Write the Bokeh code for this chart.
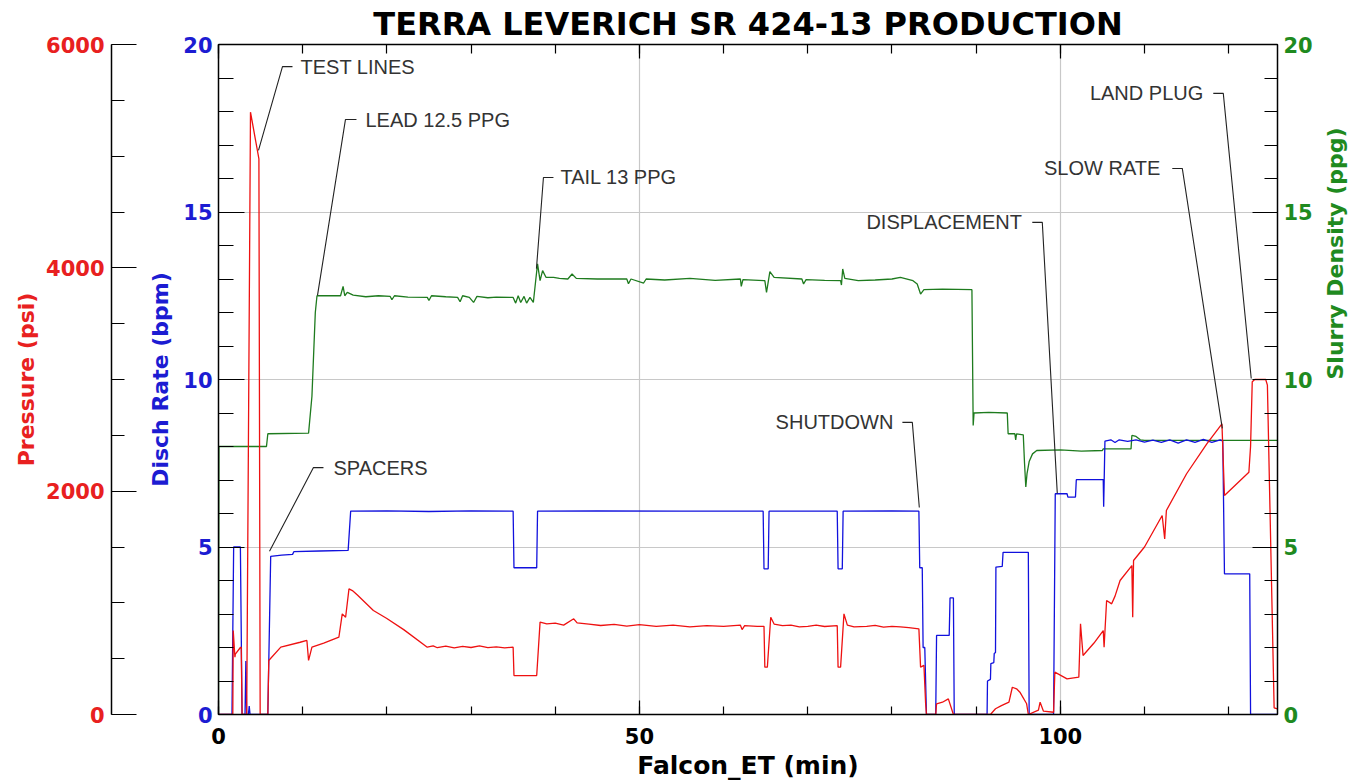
import math
from bokeh.plotting import figure
from bokeh.models import Range1d, LinearAxis, FixedTicker, Grid, Title
from bokeh.core.properties import value
from bokeh.embed import file_html
from bokeh.resources import INLINE

# ---------------- data ----------------
# Disch Rate (bpm)
rate_t = [0, 1.6, 1.8, 2.6, 2.8, 3.15, 3.25, 3.35, 3.55, 3.65, 3.75, 5.86, 6.2, 7.5, 8.8, 8.95,
          12, 15.4, 15.7, 20, 25, 30, 35.0, 35.1, 37.8, 37.9, 45, 55, 64.7, 64.8, 65.3, 65.4,
          73.5, 73.6, 74.1, 74.2, 80, 83.2, 83.3, 83.6, 83.7, 83.9, 84.1, 85.2, 85.3, 86.8, 86.9,
          87.3, 87.4, 91.3, 91.35, 91.7, 91.75, 92.1, 92.15, 92.3, 92.35, 93.1, 93.2, 96.2, 96.3,
          99.2, 99.4, 100.8, 100.9, 101.8, 101.9, 105.1, 105.15, 105.3, 106, 106.5, 107, 108, 109,
          110, 111, 112, 113, 114, 115, 116, 117, 118, 119, 119.3, 119.5, 122.5, 122.6, 125.8]
rate_v = [0, 0, 5.0, 5.0, 0, 0, 1.6, 0, 0, 0.25, 0, 0, 4.72, 4.76, 4.78, 4.86,
          4.88, 4.9, 6.07, 6.08, 6.06, 6.08, 6.07, 4.38, 4.38, 6.07, 6.08, 6.07, 6.07, 4.35, 4.35, 6.07,
          6.07, 4.35, 4.35, 6.07, 6.08, 6.07, 4.38, 4.38, 2.0, 2.0, 0, 0, 2.36, 2.36, 3.48,
          3.48, 0, 0, 1.0, 1.05, 1.52, 1.55, 1.82, 1.85, 4.4, 4.42, 4.84, 4.84, 0,
          0, 6.59, 6.59, 6.49, 6.49, 7.01, 7.01, 6.2, 8.16, 8.2, 8.12, 8.2, 8.15, 8.2,
          8.13, 8.19, 8.12, 8.2, 8.1, 8.2, 8.12, 8.21, 8.12, 8.2, 8.16, 4.2, 4.2, 0, 0]

# Slurry Density (ppg)
dens_t = [0, 0.05, 5.7, 5.86, 10.7, 11.1, 11.5, 11.7, 14.5, 14.8, 15.0, 15.3, 16, 17.5, 19, 20.4,
          20.6, 20.9, 22.5, 24.8, 25.0, 25.3, 27, 28.4, 28.7, 29.0, 29.8, 30.3, 30.7, 32, 33, 35.0,
          35.3, 35.6, 35.9, 36.3, 36.6, 37.0, 37.4, 37.7, 37.9, 38.2, 38.5, 38.9, 39.8, 40.5, 41.5,
          42.0, 42.5, 45, 48.5, 48.7, 49.0, 50.5, 50.8, 53, 56, 59, 62.0, 62.1, 62.3, 64.9, 65.1,
          65.5, 66, 69.3, 69.5, 69.8, 72, 73.9, 74.0, 74.15, 74.4, 76, 78, 80, 81, 82.5, 83.0, 83.4,
          83.8, 86, 89.5, 89.65, 89.75, 91.5, 93.7, 93.8, 94.6, 94.7, 94.8, 95.6, 95.75, 95.9, 96.05,
          96.3, 96.7, 97.2, 100, 102.5, 105, 105.1, 108.4, 108.5, 109, 109.5, 110, 115, 120, 125.8]
dens_v = [0, 8.0, 8.0, 8.38, 8.4, 9.5, 12.0, 12.5, 12.5, 12.78, 12.5, 12.6, 12.52, 12.47, 12.5, 12.48,
          12.38, 12.5, 12.46, 12.45, 12.36, 12.5, 12.47, 12.45, 12.32, 12.5, 12.45, 12.3, 12.48, 12.44, 12.46, 12.45,
          12.28, 12.5, 12.3, 12.48, 12.28, 12.45, 12.3, 13.0, 13.45, 12.95, 13.25, 13.05, 13.05, 13.02, 13.0,
          13.15, 13.02, 13.0, 13.0, 12.86, 13.0, 12.88, 13.0, 12.97, 13.02, 12.96, 13.0, 12.78, 12.98, 12.95, 12.6,
          13.22, 13.05, 13.0, 12.85, 12.98, 12.96, 12.95, 12.82, 13.3, 13.02, 12.95, 12.97, 13.0, 13.05, 12.95, 12.85, 12.55,
          12.68, 12.7, 12.68, 8.63, 9.0, 9.02, 9.0, 8.38, 8.38, 8.2, 8.38, 8.35, 7.5, 6.79, 7.2,
          7.55, 7.78, 7.88, 7.9, 7.86, 7.88, 7.93, 7.93, 8.33, 8.3, 8.2, 8.18, 8.18, 8.18, 8.18]

# Pressure (psi)
pres_t = [0, 1.7, 1.75, 1.95, 2.0, 2.6, 2.7, 2.8, 3.35, 3.8, 4.8, 4.95, 5.86, 5.97, 7.4, 9.7, 10.5,
          10.7, 11.1, 12.5, 14.3, 14.7, 15.1, 15.5, 15.9, 16.5, 18.4, 20, 22, 24.8, 25.5, 26, 27, 28,
          29, 30, 31, 32, 33, 34, 35.0, 35.1, 37.8, 38.2, 39, 40, 41, 42.2, 42.6, 44, 45.4, 47, 48.5,
          50, 52, 54, 56, 58, 60, 62, 62.2, 62.5, 64, 64.8, 64.9, 65.2, 65.6, 66, 67, 68, 69, 70, 71,
          72, 73.5, 73.6, 73.9, 74.3, 74.7, 75.5, 77, 78, 79, 80, 81, 82, 83.2, 83.4, 83.8, 84.0,
          84.1, 85.2, 85.3, 86.0, 86.7, 87.3, 91.7, 92.3, 93.0, 93.9, 94.3, 94.8, 95.2, 96.0, 96.2,
          97.4, 97.6, 98.0, 99.2, 99.35, 100.8, 102.2, 102.4, 102.7, 104, 105.1, 105.2, 105.5,
          106.1, 106.5, 107.1, 108.5, 108.6, 108.7, 110, 112.1, 112.4, 112.6, 115.0, 117.4, 119.2,
          119.5, 122.4, 122.6, 122.8, 123.1, 124.4, 124.6, 125.4, 125.8]
pres_v = [0, 0, 752, 513, 540, 600, 603, 0, 0, 5394, 4976, 0, 0, 484, 603, 647, 663,
          484, 603, 640, 692, 901, 871, 1125, 1110, 1070, 931, 860, 760, 603, 615, 598, 612, 596,
          610, 600, 614, 598, 606, 596, 603, 349, 349, 827, 812, 818, 800, 857, 820, 810, 797, 808, 792,
          805, 790, 800, 785, 796, 790, 800, 760, 795, 790, 790, 424, 424, 871, 810, 795, 800, 785, 790, 800,
          788, 795, 424, 424, 901, 800, 785, 790, 798, 782, 790, 785, 778, 767, 424, 440, 99,
          0, 0, 96, 110, 140, 0, 0, 51, 80, 110, 244, 230, 200, 96, 0,
          40, 110, 30, 20, 379, 319, 334, 812, 528, 640, 752, 603, 1021,
          991, 1060, 1200, 1334, 871, 1379, 1500, 1782, 1573, 1827, 2156, 2424, 2603,
          1961, 2170, 2400, 2980, 3000, 3000, 2950, 60, 50]

# annotations
ann_text = ["TEST LINES", "LEAD 12.5 PPG", "TAIL 13 PPG", "SPACERS",
            "SHUTDOWN", "DISPLACEMENT", "SLOW RATE", "LAND PLUG"]
ann_side = ["left", "left", "left", "left", "right", "right", "right", "right"]
ann_text_x = [9.74, 17.46, 40.62, 13.66, 80.17, 95.45, 111.88, 116.98]
ann_dash_x = [8.79, 16.39, 39.79, 12.47, 81.24, 96.67, 113.3, 118.17]
ann_corner_x = [7.60, 15.08, 38.6, 11.28, 82.42, 97.86, 114.49, 119.36]
ann_label_y = [19.34, 17.76, 16.03, 7.37, 8.72, 14.69, 16.30, 18.54]
ann_target_x = [4.75, 11.76, 37.77, 6.06, 83.25, 99.64, 119.24, 122.68]
ann_target_y = [16.84, 12.51, 13.31, 4.87, 6.18, 6.60, 8.54, 10.03]

x_major = [0, 50, 100]
x_minor = list(range(0, 126, 10))
rate_major = [0, 5, 10, 15, 20]
rate_minor = list(range(0, 21))
pres_major = [0, 2000, 4000, 6000]
pres_minor = list(range(0, 6001, 500))

# ---------------- styling ----------------
RED_LINE = "#ee1111"
BLUE_LINE = "#1111dd"
GREEN_LINE = "#1e7b1e"
RED_TXT = "#e82020"
BLUE_TXT = "#1c1cd2"
GREEN_TXT = "#1f8a1f"
BOLD = "DejaVu Sans"

p = figure(width=1368, height=784, output_backend="svg", toolbar_location=None,
           x_range=Range1d(0, 125.8), y_range=Range1d(0, 20),
           x_axis_type=None, y_axis_type=None,
           min_border_left=218, min_border_right=91, min_border_top=44, min_border_bottom=70)
p.extra_y_ranges = {"psi": Range1d(0, 6000), "ppg": Range1d(0, 20)}
p.outline_line_color = "black"
p.background_fill_color = "white"
p.border_fill_color = "white"

p.title = Title(text="TERRA LEVERICH SR 424-13 PRODUCTION", align="center",
                text_font=BOLD, text_font_style="bold", text_font_size="32px",
                text_color="black", standoff=3)

def style_axis(ax, color, major_in, minor_in):
    ax.axis_line_color = "black"
    ax.axis_line_width = 1.5
    ax.major_tick_line_color = "black"
    ax.minor_tick_line_color = "black"
    ax.major_tick_line_width = 1.2
    ax.minor_tick_line_width = 1.2
    ax.major_tick_in = major_in
    ax.major_tick_out = 0
    ax.minor_tick_in = minor_in
    ax.minor_tick_out = 0
    ax.major_label_text_font = BOLD
    ax.major_label_text_font_style = "bold"
    ax.major_label_text_font_size = "21px"
    ax.major_label_text_color = color
    ax.axis_label_text_font = BOLD
    ax.axis_label_text_font_style = "bold"
    ax.axis_label_text_font_size = "22px"
    ax.axis_label_text_color = color

# blue rate axis (next to the frame)
rate_axis = LinearAxis(ticker=FixedTicker(ticks=rate_major, minor_ticks=rate_minor),
                       axis_label="Disch Rate (bpm)")
style_axis(rate_axis, BLUE_TXT, 26, 15)
rate_axis.major_label_standoff = 6
rate_axis.axis_label_standoff = 7
p.add_layout(rate_axis, "left")

# empty gap between the two left axes
spacer = LinearAxis(ticker=FixedTicker(ticks=[]), axis_line_color=None,
                    major_tick_line_color=None, minor_tick_line_color=None,
                    major_tick_in=0, major_tick_out=0, minor_tick_in=0, minor_tick_out=0,
                    major_label_standoff=0, major_label_text_color=None,
                    axis_label=" ", axis_label_standoff=4,
                    axis_label_text_font_size="24px", axis_label_text_color=None)
p.add_layout(spacer, "left")

# pressure axis
pres_axis = LinearAxis(y_range_name="psi",
                       ticker=FixedTicker(ticks=pres_major, minor_ticks=pres_minor),
                       axis_label="Pressure (psi)")
style_axis(pres_axis, RED_TXT, 25, 13)
pres_axis.major_label_standoff = 7
pres_axis.axis_label_standoff = 4
p.add_layout(pres_axis, "left")

# density axis (right)
dens_axis = LinearAxis(y_range_name="ppg",
                       ticker=FixedTicker(ticks=rate_major, minor_ticks=rate_minor),
                       axis_label="Slurry Density (ppg)")
style_axis(dens_axis, GREEN_TXT, 25, 13)
dens_axis.major_label_standoff = 6
dens_axis.axis_label_standoff = 20
dens_axis.axis_label_orientation = math.pi / 2
p.add_layout(dens_axis, "right")

# x axes
x_axis = LinearAxis(ticker=FixedTicker(ticks=x_major, minor_ticks=x_minor),
                    axis_label="Falcon_ET (min)")
style_axis(x_axis, "black", 14, 8)
x_axis.major_label_standoff = 13
x_axis.axis_label_standoff = 4
x_axis.axis_label_text_font_size = "25px"
p.add_layout(x_axis, "below")

top_axis = LinearAxis(ticker=FixedTicker(ticks=x_major, minor_ticks=x_minor))
style_axis(top_axis, "black", 14, 9)
top_axis.major_label_text_font_size = "0px"
top_axis.major_label_text_color = None
top_axis.major_label_standoff = 0
p.add_layout(top_axis, "above")

# grids
p.add_layout(Grid(dimension=0, ticker=FixedTicker(ticks=[50, 100]),
                  grid_line_color="#c8c8c8", grid_line_width=1.2))
p.add_layout(Grid(dimension=1, ticker=FixedTicker(ticks=[5, 10, 15]),
                  grid_line_color="#c8c8c8", grid_line_width=1.2))

# series
p.line(dens_t, dens_v, y_range_name="ppg", line_color=GREEN_LINE, line_width=1.3)
p.line(rate_t, rate_v, line_color=BLUE_LINE, line_width=1.3)
p.line(pres_t, pres_v, y_range_name="psi", line_color=RED_LINE, line_width=1.3)

# annotation leader lines
xs, ys = [], []
for i in range(len(ann_text)):
    xs.append([ann_dash_x[i], ann_corner_x[i], ann_target_x[i]])
    ys.append([ann_label_y[i], ann_label_y[i], ann_target_y[i]])
p.multi_line(xs, ys, line_color="#222222", line_width=1.1)

for side in ("left", "right"):
    idx = [i for i in range(len(ann_text)) if ann_side[i] == side]
    p.text(x=[ann_text_x[i] for i in idx], y=[ann_label_y[i] for i in idx],
           text=[ann_text[i] for i in idx], text_align=side, text_baseline="middle",
           text_font=value("Liberation Sans"), text_font_size="20px", text_color="#333333")

open("out.html", "w").write(file_html(p, INLINE))
